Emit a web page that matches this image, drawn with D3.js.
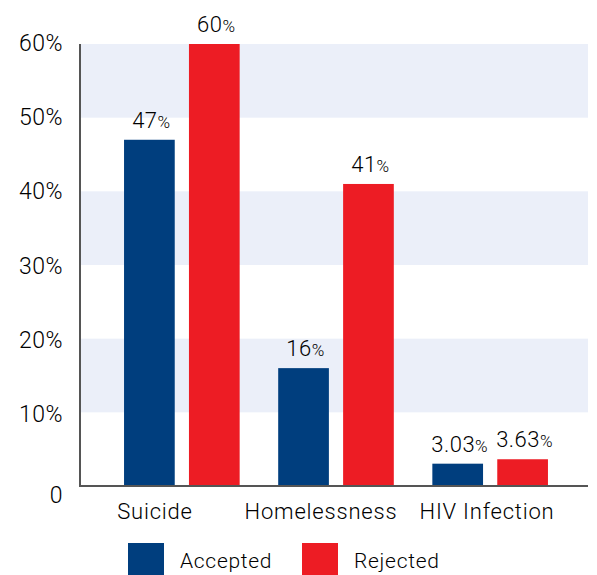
<!DOCTYPE html>
<html>
<head>
<meta charset="utf-8">
<script src="https://cdn.jsdelivr.net/npm/d3@7"></script>
<style>
  body { margin: 0; background: #fff; }
  svg text { font-family: Roboto, "Liberation Sans", Arial, sans-serif; font-weight: 300; fill: #000; }
</style>
</head>
<body>
<svg class="chart"></svg>
<script>
var categories = ["Suicide", "Homelessness", "HIV Infection"];
var series = ["Accepted", "Rejected"];
var accepted = [47, 16, 3.03];
var rejected = [60, 41, 3.63];
var yTicks = [0, 10, 20, 30, 40, 50, 60];
var bands = [[50, 60], [30, 40], [10, 20]];

var width = 597, height = 575;
var colors = {Accepted: "#003e7e", Rejected: "#ed1c24"};

var svg = d3.select(".chart")
    .attr("width", width)
    .attr("height", height);

var y = d3.scaleLinear().domain([0, 60]).range([486, 44]);

var x0 = d3.scaleBand()
    .domain(categories)
    .range([104, 568])
    .paddingInner(0.25)
    .paddingOuter(0.13);

var x1 = d3.scaleBand()
    .domain(series)
    .range([0, x0.bandwidth()])
    .paddingInner(0.219);

// labels under the groups sit a bit off-centre in the original
var xLabel = d3.scalePoint().domain(categories).range([155, 487]);

var rows = categories.map(function(c, i) {
    return {cat: c, values: [
        {key: "Accepted", value: accepted[i]},
        {key: "Rejected", value: rejected[i]}
    ]};
});

// background bands
svg.selectAll(".band")
    .data(bands)
    .enter().append("rect")
    .attr("class", "band")
    .attr("x", 80)
    .attr("width", 588 - 80)
    .attr("y", function(d) { return y(d[1]); })
    .attr("height", function(d) { return y(d[0]) - y(d[1]); })
    .style("fill", "#ebeff9");

// y tick labels
svg.selectAll(".ytick")
    .data(yTicks)
    .enter().append("text")
    .attr("class", "ytick")
    .attr("x", 63)
    .attr("y", function(d) { return y(d) + (d === 0 ? 17 : 7 + (60 - d) / 20); })
    .attr("text-anchor", "end")
    .style("font-size", "23px")
    .style("letter-spacing", "0.5px")
    .text(function(d) { return d === 0 ? "0" : d + "%"; });

// bars
var groups = svg.selectAll(".group")
    .data(rows)
    .enter().append("g")
    .attr("class", "group")
    .attr("transform", function(d) { return "translate(" + x0(d.cat) + ",0)"; });

groups.selectAll("rect")
    .data(function(d) { return d.values; })
    .enter().append("rect")
    .attr("x", function(d) { return x1(d.key); })
    .attr("width", x1.bandwidth())
    .attr("y", function(d) { return y(d.value); })
    .attr("height", function(d) { return y(0) - y(d.value); })
    .style("fill", function(d) { return colors[d.key]; });

var vlab = groups.selectAll(".vlabel")
    .data(function(d) { return d.values; })
    .enter().append("text")
    .attr("class", "vlabel")
    .attr("x", function(d) { return x1(d.key) + x1.bandwidth() / 2 + 2; })
    .attr("y", function(d) { return y(d.value) - 12; })
    .attr("text-anchor", "middle")
    .style("font-size", "22px")
    .style("letter-spacing", "0.5px");

vlab.append("tspan").text(function(d) { return d.value; });
vlab.append("tspan").style("font-size", "17px").text("%");

// axes
svg.append("line")
    .attr("x1", 80).attr("x2", 80)
    .attr("y1", y(60)).attr("y2", y(0) + 1)
    .style("stroke", "#555").style("stroke-width", 2);

svg.append("line")
    .attr("x1", 79).attr("x2", 588)
    .attr("y1", y(0)).attr("y2", y(0))
    .style("stroke", "#555").style("stroke-width", 2);

// category labels
svg.selectAll(".xlabel")
    .data(categories)
    .enter().append("text")
    .attr("class", "xlabel")
    .attr("x", function(d) { return xLabel(d); })
    .attr("y", 519)
    .attr("text-anchor", "middle")
    .style("font-size", "22px")
    .style("letter-spacing", "0.8px")
    .text(function(d) { return d; });

// legend
var legend = svg.selectAll(".legend")
    .data(series)
    .enter().append("g")
    .attr("class", "legend")
    .attr("transform", function(d, i) { return "translate(" + (128 + i * 174) + ",543)"; });

legend.append("rect")
    .attr("width", 36)
    .attr("height", 33)
    .style("fill", function(d) { return colors[d]; });

legend.append("text")
    .attr("x", 52)
    .attr("y", 25)
    .style("font-size", "21px")
    .style("letter-spacing", "0.7px")
    .text(function(d) { return d; });
</script>
</body>
</html>
